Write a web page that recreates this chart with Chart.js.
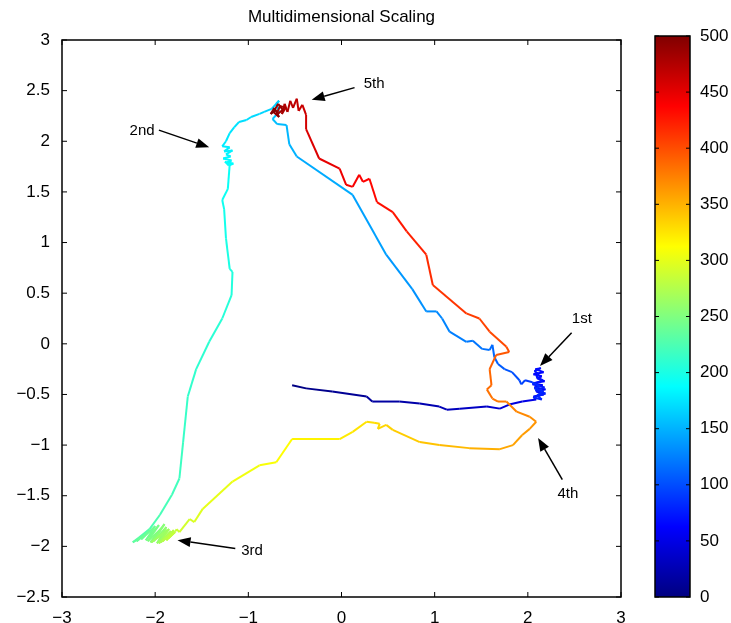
<!DOCTYPE html>
<html lang="en">

<head>
    <meta charset="UTF-8" />
    <title>Multidimensional Scaling</title>
    <script src="https://cdn.jsdelivr.net/npm/chart.js"></script>
    <style>
        body { margin: 0; background: #fff; }
        .wrap { position: relative; width: 731px; height: 623px; }
        #grafico { position: absolute; left: 0; top: 0; }
        #barra { position: absolute; left: 640px; top: 0; }
    </style>
</head>

<body>
    <div class="wrap">
        <canvas id="grafico" width="640" height="623"></canvas>
        <canvas id="barra" width="91" height="623"></canvas>
    </div>

<script>
    // trajectory, in embedding coordinates, and the step index of each point
    const pathX = [
        -0.53, -0.38, -0.10, 0.27, 0.33, 0.62, 0.84, 1.05, 1.13, 1.27, 1.56, 1.70, 1.80, 1.94, 2.09,
        2.06, 2.17, 2.09, 2.19, 2.07, 2.16, 2.05, 2.18, 2.10, 2.15, 2.06, 2.17, 2.08, 2.14, 2.07,
        2.12, 2.09, 2.16, 2.05, 2.18, 2.08, 2.19, 2.06, 2.15, 2.10, 2.17, 2.07, 2.13, 2.09, 2.07,
        2.05, 1.97, 1.93, 1.91, 1.83, 1.75, 1.68, 1.64, 1.62, 1.59, 1.51, 1.41, 1.34, 1.16, 1.08, 1.02, 0.91, 0.76, 0.48, 0.12,
        -0.48, -0.56, -0.59, -0.69, -0.74, -0.67, -0.70, -0.67, -0.75, -0.83, -0.88, -0.97, -1.02, -1.10, -1.15, -1.20, -1.24,
        -1.28, -1.20, -1.26, -1.17, -1.24, -1.19, -1.27, -1.18, -1.23, -1.16, -1.21, -1.25, -1.20,
        -1.22, -1.28, -1.26, -1.24, -1.20, -1.17, -1.18, -1.28, -1.42, -1.56, -1.65, -1.70, -1.74, -1.82, -1.95, -2.06, -2.17,
        -2.24, -2.12, -2.20, -2.05, -2.15, -2.00, -2.10, -1.96, -2.08, -1.93, -2.05, -1.90, -2.02, -1.88, -1.98,
        -1.87, -2.04, -1.85, -1.96, -1.83, -1.94, -1.82, -1.92, -1.80, -1.88, -1.79, -1.86, -1.78, -1.77,
        -1.74, -1.63, -1.58, -1.49, -1.17, -0.88, -0.70, -0.53, -0.02, 0.12, 0.27, 0.35, 0.41, 0.39, 0.48, 0.55,
        0.84, 1.05, 1.37, 1.70, 1.84, 1.94, 2.02, 2.09,
        2.02, 1.88, 1.77, 1.68, 1.62, 1.56, 1.61, 1.59, 1.66, 1.80, 1.77,
        1.59, 1.48, 1.34, 0.98, 0.91, 0.70, 0.55, 0.38, 0.30, 0.23, 0.19, 0.12, 0.05, -0.02, -0.24, -0.38,
        -0.38, -0.42, -0.46, -0.48, -0.52, -0.55, -0.58, -0.61, -0.64, -0.60, -0.66, -0.70, -0.63, -0.68, -0.73, -0.67, -0.72, -0.76, -0.70
    ];
    const pathY = [
        -0.41, -0.44, -0.47, -0.52, -0.57, -0.57, -0.59, -0.62, -0.65, -0.64, -0.62, -0.64, -0.60, -0.57, -0.55,
        -0.52, -0.50, -0.47, -0.45, -0.43, -0.41, -0.39, -0.37, -0.34, -0.32, -0.30, -0.28, -0.25, -0.24, -0.27,
        -0.30, -0.33, -0.36, -0.40, -0.43, -0.46, -0.49, -0.53, -0.55, -0.51, -0.47, -0.44, -0.42, -0.40, -0.39,
        -0.38, -0.36, -0.40, -0.36, -0.28, -0.25, -0.20, -0.13, -0.01, -0.06, -0.05, 0.03, 0.02, 0.12, 0.25, 0.32, 0.32, 0.54, 0.88, 1.47,
        1.85, 1.97, 2.16, 2.17, 2.22, 2.29, 2.37, 2.40, 2.32, 2.29, 2.27, 2.24, 2.21, 2.19, 2.14, 2.08, 2.00,
        1.95, 1.94, 1.90, 1.91, 1.87, 1.85, 1.83, 1.81, 1.79, 1.78, 1.76, 1.80, 1.77,
        1.53, 1.42, 1.33, 1.04, 0.74, 0.71, 0.48, 0.25, 0.02, -0.25, -0.52, -0.97, -1.33, -1.49, -1.69, -1.83, -1.91,
        -1.96, -1.89, -1.95, -1.84, -1.93, -1.80, -1.94, -1.79, -1.95, -1.82, -1.96, -1.78, -1.95, -1.81, -1.97,
        -1.84, -1.96, -1.83, -1.97, -1.85, -1.96, -1.86, -1.95, -1.84, -1.94, -1.86, -1.92, -1.85, -1.83,
        -1.86, -1.73, -1.76, -1.63, -1.36, -1.20, -1.17, -0.94, -0.94, -0.87, -0.77, -0.78, -0.79, -0.84, -0.80, -0.85,
        -0.97, -1.00, -1.03, -1.04, -1.00, -0.90, -0.84, -0.77,
        -0.72, -0.67, -0.57, -0.57, -0.54, -0.45, -0.41, -0.25, -0.11, -0.08, -0.03,
        0.12, 0.25, 0.30, 0.58, 0.88, 1.11, 1.30, 1.40, 1.63, 1.60, 1.67, 1.55, 1.57, 1.73, 1.83, 2.12,
        2.26, 2.36, 2.30, 2.42, 2.33, 2.40, 2.29, 2.37, 2.27, 2.33, 2.35, 2.26, 2.31, 2.37, 2.29, 2.24, 2.33, 2.27, 2.31
    ];
    const pathT = [
        0, 4, 8, 13, 15, 19, 22, 26, 28, 31, 36, 40, 44, 48, 52,
        55, 56, 57, 58, 59, 60, 61, 62, 63, 64, 65, 66, 67, 68, 69,
        70, 71, 72, 73, 74, 75, 76, 78, 79, 80, 81, 82, 84, 85, 87,
        89, 93, 96, 99, 103, 106, 109, 112, 115, 117, 119, 121, 123, 126, 128, 130, 132, 135, 139, 144,
        149, 151, 153, 155, 157, 159, 161, 163, 165, 167, 168, 170, 171, 173, 174, 176, 177,
        178, 179, 180, 181, 182, 183, 184, 185, 186, 187, 188, 189, 191,
        193, 195, 196, 199, 202, 203, 205, 207, 209, 211, 213, 216, 219, 221, 224, 227, 230,
        233, 235, 237, 239, 240, 242, 244, 246, 248, 250, 251, 253, 255, 257, 259,
        261, 263, 265, 267, 269, 271, 273, 275, 277, 279, 280, 282, 284, 285,
        288, 292, 295, 298, 303, 308, 311, 315, 321, 324, 327, 329, 330, 331, 333, 335,
        340, 344, 349, 354, 357, 360, 363, 366,
        369, 372, 375, 378, 380, 383, 385, 389, 393, 397, 400,
        403, 406, 409, 414, 419, 424, 428, 432, 436, 438, 440, 442, 444, 447, 452, 457,
        462, 464, 466, 468, 470, 472, 474, 476, 478, 480, 482, 484, 486, 488, 490, 492, 494, 497, 500
    ];

    const xTicks = [-3, -2, -1, 0, 1, 2, 3];
    const yTicks = [-2.5, -2, -1.5, -1, -0.5, 0, 0.5, 1, 1.5, 2, 2.5, 3];
    const colorTicks = [0, 50, 100, 150, 200, 250, 300, 350, 400, 450, 500];

    // arrows: label, label position, arrow tail, arrow head
    const notas = [
        { texto: "1st", tx: 2.58, ty: 0.25, x0: 2.47, y0: 0.11, x1: 2.13, y1: -0.22 },
        { texto: "2nd", tx: -2.14, ty: 2.10, x0: -1.96, y0: 2.11, x1: -1.42, y1: 1.94 },
        { texto: "3rd", tx: -0.96, ty: -2.04, x0: -1.14, y0: -2.02, x1: -1.76, y1: -1.94 },
        { texto: "4th", tx: 2.43, ty: -1.48, x0: 2.37, y0: -1.34, x1: 2.11, y1: -0.93 },
        { texto: "5th", tx: 0.35, ty: 2.57, x0: 0.14, y0: 2.53, x1: -0.32, y1: 2.41 }
    ];

    const FONTE = '"Liberation Sans", Arial, Helvetica, sans-serif';
    const T_MAX = 500;

    // matlab jet colormap
    function jet(v) {
        const t = v / T_MAX;
        const c = k => Math.round(255 * Math.max(0, Math.min(1, 1.5 - Math.abs(4 * t - k))));
        return `rgb(${c(3)},${c(2)},${c(1)})`;
    }

    const rotulo = v => String(v).replace('-', '\u2212');

    const pontos = pathX.map((x, i) => ({ x: x, y: pathY[i] }));

    // box + inward ticks on all sides, title, arrows
    const molduraPlugin = {
        id: 'moldura',
        afterDraw(chart) {
            const { ctx, chartArea: a, scales } = chart;
            ctx.save();
            ctx.strokeStyle = '#000';
            ctx.lineWidth = 1.5;
            ctx.strokeRect(a.left, a.top, a.right - a.left, a.bottom - a.top);
            ctx.lineWidth = 1;
            ctx.beginPath();
            xTicks.forEach(v => {
                const px = scales.x.getPixelForValue(v);
                ctx.moveTo(px, a.bottom); ctx.lineTo(px, a.bottom - 5);
                ctx.moveTo(px, a.top); ctx.lineTo(px, a.top + 5);
            });
            yTicks.forEach(v => {
                const py = scales.y.getPixelForValue(v);
                ctx.moveTo(a.left, py); ctx.lineTo(a.left + 5, py);
                ctx.moveTo(a.right, py); ctx.lineTo(a.right - 5, py);
            });
            ctx.stroke();

            ctx.fillStyle = '#000';
            ctx.font = '17px ' + FONTE;
            ctx.textAlign = 'center';
            ctx.textBaseline = 'middle';
            ctx.fillText('Multidimensional Scaling', (a.left + a.right) / 2, 17);

            ctx.font = '15px ' + FONTE;
            notas.forEach(n => {
                const sx = scales.x, sy = scales.y;
                const x0 = sx.getPixelForValue(n.x0), y0 = sy.getPixelForValue(n.y0);
                const x1 = sx.getPixelForValue(n.x1), y1 = sy.getPixelForValue(n.y1);
                const ang = Math.atan2(y1 - y0, x1 - x0);
                const L = 13, W = 5;
                const bx = x1 - L * Math.cos(ang), by = y1 - L * Math.sin(ang);
                ctx.lineWidth = 1.5;
                ctx.beginPath();
                ctx.moveTo(x0, y0); ctx.lineTo(bx, by);
                ctx.stroke();
                ctx.beginPath();
                ctx.moveTo(x1, y1);
                ctx.lineTo(bx + W * Math.sin(ang), by - W * Math.cos(ang));
                ctx.lineTo(bx - W * Math.sin(ang), by + W * Math.cos(ang));
                ctx.closePath();
                ctx.fill();
                ctx.fillText(n.texto, sx.getPixelForValue(n.tx), sy.getPixelForValue(n.ty));
            });
            ctx.restore();
        }
    };

    new Chart(document.getElementById('grafico'), {
        type: 'scatter',
        data: {
            datasets: [{
                data: pontos,
                showLine: true,
                borderWidth: 2,
                pointRadius: 0,
                borderJoinStyle: 'round',
                segment: {
                    borderColor: c => jet((pathT[c.p0DataIndex] + pathT[c.p1DataIndex]) / 2)
                }
            }]
        },
        options: {
            responsive: false,
            animation: false,
            layout: { padding: { left: 0, right: 19, top: 40, bottom: 0 } },
            plugins: { legend: { display: false }, tooltip: { enabled: false } },
            scales: {
                x: {
                    type: 'linear', min: -3, max: 3,
                    afterBuildTicks: s => { s.ticks = xTicks.map(v => ({ value: v })); },
                    afterFit: s => { s.height = 26; },
                    grid: { display: false },
                    border: { display: false },
                    ticks: { color: '#000', padding: 3, font: { family: FONTE, size: 17 }, callback: rotulo }
                },
                y: {
                    type: 'linear', min: -2.5, max: 3,
                    afterBuildTicks: s => { s.ticks = yTicks.map(v => ({ value: v })); },
                    afterFit: s => { s.width = 62; },
                    grid: { display: false },
                    border: { display: false },
                    ticks: { color: '#000', padding: 4, font: { family: FONTE, size: 17 }, callback: rotulo }
                }
            }
        },
        plugins: [molduraPlugin]
    });

    // colour bar
    const barraPlugin = {
        id: 'barraMoldura',
        afterDraw(chart) {
            const { ctx, chartArea: a, scales } = chart;
            ctx.save();
            ctx.strokeStyle = '#000';
            ctx.lineWidth = 1.5;
            ctx.strokeRect(a.left, a.top, a.right - a.left, a.bottom - a.top);
            ctx.lineWidth = 1;
            ctx.beginPath();
            colorTicks.forEach(v => {
                const py = scales.y.getPixelForValue(v);
                ctx.moveTo(a.left, py); ctx.lineTo(a.left + 4, py);
                ctx.moveTo(a.right, py); ctx.lineTo(a.right - 4, py);
            });
            ctx.stroke();
            ctx.restore();
        }
    };

    new Chart(document.getElementById('barra'), {
        type: 'bar',
        data: {
            labels: [''],
            datasets: [{
                data: [[0, T_MAX]],
                barPercentage: 1,
                categoryPercentage: 1,
                backgroundColor: c => {
                    const a = c.chart.chartArea;
                    if (!a) return '#000';
                    const g = c.chart.ctx.createLinearGradient(0, a.bottom, 0, a.top);
                    for (let i = 0; i <= 16; i++) g.addColorStop(i / 16, jet(i * T_MAX / 16));
                    return g;
                }
            }]
        },
        options: {
            responsive: false,
            animation: false,
            layout: { padding: { left: 15, right: 0, top: 36, bottom: 26 } },
            plugins: { legend: { display: false }, tooltip: { enabled: false } },
            scales: {
                x: { display: false },
                y: {
                    position: 'right', min: 0, max: T_MAX,
                    afterBuildTicks: s => { s.ticks = colorTicks.map(v => ({ value: v })); },
                    afterFit: s => { s.width = 41; },
                    grid: { display: false },
                    border: { display: false },
                    ticks: { color: '#000', padding: 2, font: { family: FONTE, size: 17 } }
                }
            }
        },
        plugins: [barraPlugin]
    });
</script>
</body>

</html>
